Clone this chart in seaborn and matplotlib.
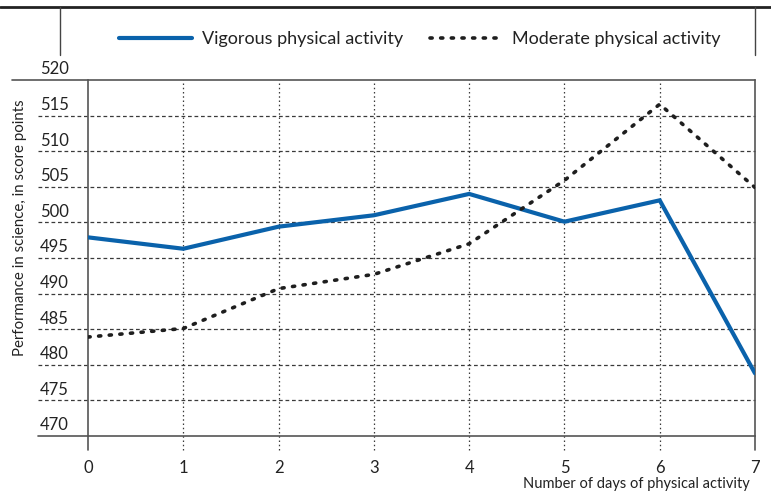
import matplotlib
matplotlib.use("Agg")
import matplotlib.pyplot as plt
import matplotlib.transforms as mtransforms
from matplotlib.lines import Line2D
import seaborn as sns

# Science performance by number of days of physical activity
days = [0, 1, 2, 3, 4, 5, 6, 7]
vigorous = [497.9, 496.3, 499.4, 501.0, 504.0, 500.1, 503.1, 478.8]
moderate = [483.9, 485.1, 490.7, 492.7, 497.0, 505.9, 516.6, 504.9]
series_names = ["Vigorous physical activity", "Moderate physical activity"]
y_ticks = [470, 475, 480, 485, 490, 495, 500, 505, 510, 515, 520]
x_label = "Number of days of physical activity"
y_label = "Performance in science, in score points"

sns.set_theme(style="white")
plt.rcParams["font.family"] = ["Lato", "DejaVu Sans"]

W, H = 771, 497
fig = plt.figure(figsize=(W / 100, H / 100), dpi=100)
fig.patch.set_facecolor("white")

L, R, T, B = 88, 755, 80, 436
ax = fig.add_axes([L / W, 1 - B / H, (R - L) / W, (B - T) / H])
ax.set_facecolor("white")

blue = "#0a62ab"
ink = "#1e1e1e"
grid_col = "#3a3a3a"

sns.lineplot(x=days, y=vigorous, ax=ax, color=blue, linewidth=3.0,
             label=series_names[0], legend=False, zorder=5,
             solid_joinstyle="miter")
sns.lineplot(x=days, y=moderate, ax=ax, color=ink, linewidth=2.6,
             linestyle=(0, (0.6, 2.35)), dash_capstyle="round",
             label=series_names[1], legend=False, zorder=5)

ax.set_xlim(0, 7)
ax.set_ylim(470, 520)
ax.set_xlabel("")
ax.set_ylabel("")

for side in ["top", "bottom"]:
    ax.spines[side].set_visible(False)
for side in ["left", "right"]:
    ax.spines[side].set_color("#555555")
    ax.spines[side].set_linewidth(1.2)

# horizontal gridlines extend left beneath the tick labels
ytrans = ax.get_yaxis_transform()
x_left = -(L - 38) / (R - L)
for v in y_ticks[1:-1]:
    ax.plot([x_left, 1], [v, v], transform=ytrans, color=grid_col,
            linewidth=0.9, linestyle=(0, (3, 2.2)), clip_on=False, zorder=1)
ax.plot([x_left, 1], [470, 470], transform=ytrans, color="#555555",
        linewidth=1.2, clip_on=False, zorder=2)
fig.add_artist(Line2D([12 / W, R / W], [1 - T / H, 1 - T / H],
                      color="#555555", linewidth=1.2))

# vertical gridlines, continuing a little below the axis as ticks
xtrans = ax.get_xaxis_transform()
below = -14 / (B - T)
for d in days[1:-1]:
    ax.plot([d, d], [below, 1], transform=xtrans, color=grid_col,
            linewidth=0.9, linestyle=(0, (1.2, 2.2)), clip_on=False, zorder=1)
for d in (days[0], days[-1]):
    ax.plot([d, d], [below, 0], transform=xtrans, color="#555555",
            linewidth=1.2, clip_on=False, zorder=2)

# y tick labels sit just above their gridlines
ax.set_yticks([])
lift = mtransforms.ScaledTranslation(0, 2.5 / 100, fig.dpi_scale_trans)
for v in y_ticks:
    ax.text(-(L - 40) / (R - L), v, str(v), transform=ytrans + lift,
            ha="left", va="bottom", fontsize=12, color="#222222")

ax.set_xticks(days)
ax.set_xticklabels([str(d) for d in days], fontsize=12, color="#222222")
ax.tick_params(axis="x", length=0, pad=17)

fig.text(750 / W, 1 - 484 / H, x_label, ha="right", va="center",
         fontsize=10.5, color="#222222")
fig.text(20 / W, 1 - 228 / H, y_label, rotation=90, ha="center",
         va="center", fontsize=10.8, color="#222222")

# legend panel
fig.add_artist(Line2D([0, 1], [1 - 7 / H, 1 - 7 / H], color="#222222",
                      linewidth=2.0))
for xp in (60, 755):
    fig.add_artist(Line2D([xp / W, xp / W], [1 - 7 / H, 1 - 55 / H],
                          color="#444444", linewidth=1.0))
handles, labels = ax.get_legend_handles_labels()
fig.legend(handles, labels, loc="center", ncol=2, frameon=False,
           bbox_to_anchor=(420 / W, 1 - 39 / H), fontsize=13,
           handlelength=4.0, handletextpad=0.55, columnspacing=1.5,
           labelcolor="#222222")

fig.savefig("out.png", dpi=100, facecolor="white")
